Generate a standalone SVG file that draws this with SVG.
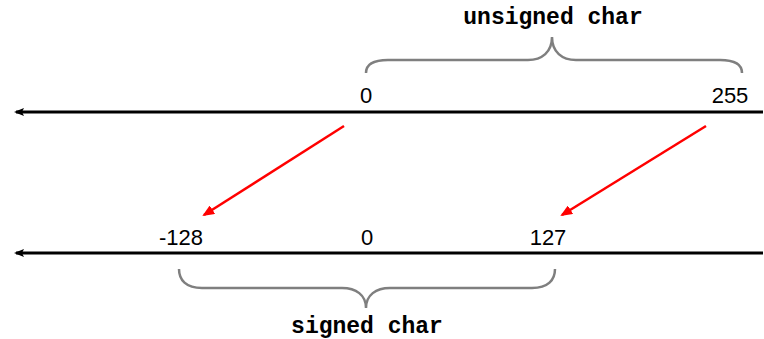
<svg xmlns="http://www.w3.org/2000/svg" width="764" height="339" viewBox="0 0 764 339">
<style>
.axis{stroke:#000;stroke-width:3;fill:none}
.map{stroke:#f00;stroke-width:2.5;fill:none}
.brace{stroke:#7f7f7f;stroke-width:2.5;fill:none}
.num{font-family:"Liberation Sans",Arial,sans-serif;font-size:22px;fill:#000;text-anchor:middle}
.type{font-family:"Liberation Mono","Courier New",monospace;font-weight:bold;font-size:23px;fill:#000;text-anchor:middle}
</style>
<defs>
<marker id="ah" markerWidth="10" markerHeight="8" refX="8" refY="4" orient="auto" markerUnits="userSpaceOnUse">
<path d="M0,0 L10,4 L0,8 L2,4 Z" fill="#000"/>
</marker>
<marker id="rh" markerWidth="12" markerHeight="10" refX="10" refY="5" orient="auto" markerUnits="userSpaceOnUse">
<path d="M0,0 L12,5 L0,10 Z" fill="#f00"/>
</marker>
</defs>
<g id="connectors">
<line class="axis" x1="763" y1="112" x2="16" y2="112" marker-end="url(#ah)"/>
<line class="axis" x1="763" y1="253" x2="16" y2="253" marker-end="url(#ah)"/>
<line class="map" x1="344" y1="126" x2="204" y2="215" marker-end="url(#rh)"/>
<line class="map" x1="706" y1="126" x2="562" y2="215" marker-end="url(#rh)"/>
</g>
<g id="unsigned">
<path class="brace" d="M366,73 C366,64 374,60 388,60 L528,60 C542,60 552,52 552,37 C552,52 562,60 576,60 L720,60 C734,60 742,64 742,73"/>
<text class="type" x="553" y="24">unsigned char</text>
<text class="num" x="366" y="103">0</text>
<text class="num" x="730" y="103">255</text>
</g>
<g id="signed">
<path class="brace" d="M179,269 C179,280 186,288 202,288 L342,288 C356,288 366,295 366,308 C366,295 376,288 390,288 L532,288 C548,288 555,280 555,269"/>
<text class="type" x="367" y="333">signed char</text>
<text class="num" x="181" y="245">-128</text>
<text class="num" x="367" y="245">0</text>
<text class="num" x="548" y="245">127</text>
</g>
</svg>
